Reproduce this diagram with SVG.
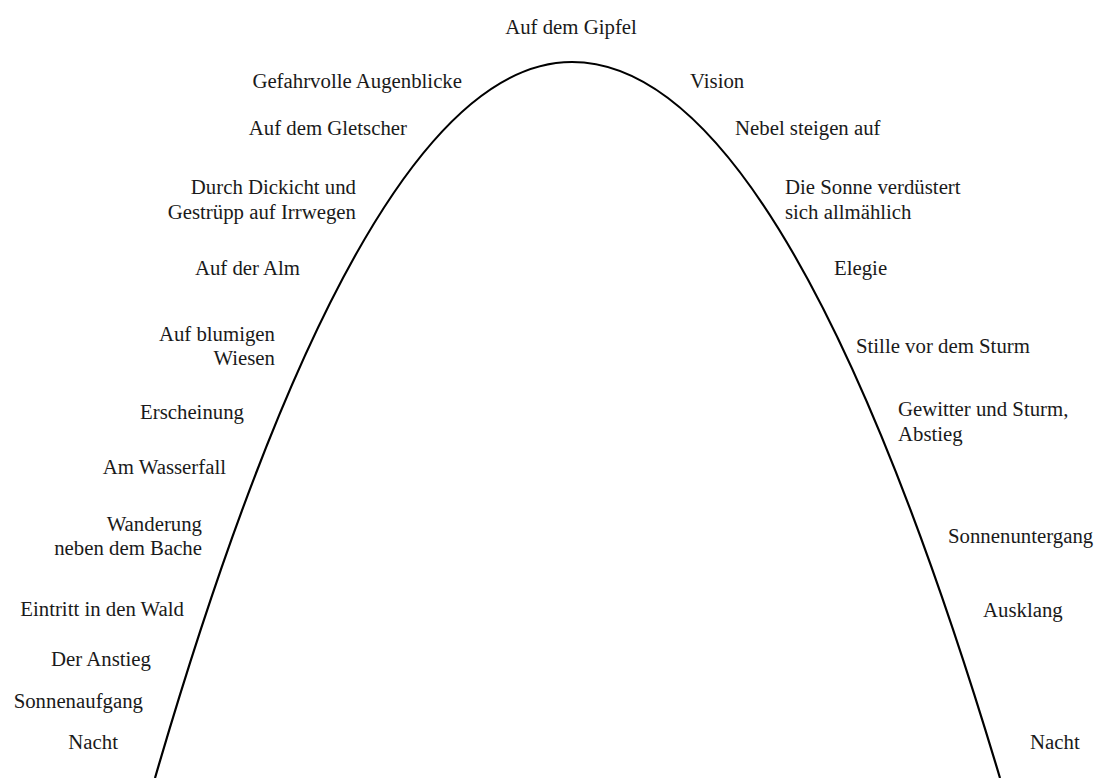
<svg xmlns="http://www.w3.org/2000/svg" width="1096" height="778" viewBox="0 0 1096 778">
  <style>
    text { font-family: "Liberation Serif", "DejaVu Serif", serif; font-size: 20.8px; fill: #1a1a1a; }
    .l { text-anchor: end; }
    .r { text-anchor: start; }
    .c { text-anchor: middle; }
    .curve { fill: none; stroke: #000; stroke-width: 2.2; }
  </style>
  <rect width="1096" height="778" fill="#fff"/>

  <!-- the arc of the day: ascent on the left, descent on the right -->
  <g id="connectors">
    <path class="curve" d="M155,778 Q363.5,62 572,62 Q786,62 1000,778"/>
  </g>

  <g transform="translate(0,1.5)">
    <g id="summit"><text class="c" x="571" y="32">Auf dem Gipfel</text></g>

    <!-- ascent -->
    <g id="a-gefahrvolle"><text class="l" x="462" y="86">Gefahrvolle Augenblicke</text></g>
    <g id="a-gletscher"><text class="l" x="407" y="133">Auf dem Gletscher</text></g>
    <g id="a-dickicht">
      <text class="l" x="356" y="192">Durch Dickicht und</text>
      <text class="l" x="356" y="217">Gestrüpp auf Irrwegen</text>
    </g>
    <g id="a-alm"><text class="l" x="300" y="273">Auf der Alm</text></g>
    <g id="a-wiesen">
      <text class="l" x="275" y="339">Auf blumigen</text>
      <text class="l" x="275" y="363">Wiesen</text>
    </g>
    <g id="a-erscheinung"><text class="l" x="244" y="417">Erscheinung</text></g>
    <g id="a-wasserfall"><text class="l" x="226" y="472">Am Wasserfall</text></g>
    <g id="a-wanderung">
      <text class="l" x="202" y="529">Wanderung</text>
      <text class="l" x="202" y="553">neben dem Bache</text>
    </g>
    <g id="a-wald"><text class="l" x="184" y="614">Eintritt in den Wald</text></g>
    <g id="a-anstieg"><text class="l" x="151" y="664">Der Anstieg</text></g>
    <g id="a-sonnenaufgang"><text class="l" x="143" y="706">Sonnenaufgang</text></g>
    <g id="a-nacht"><text class="l" x="118" y="747">Nacht</text></g>

    <!-- descent -->
    <g id="d-vision"><text class="r" x="690" y="86">Vision</text></g>
    <g id="d-nebel"><text class="r" x="735" y="133">Nebel steigen auf</text></g>
    <g id="d-sonne">
      <text class="r" x="785" y="192">Die Sonne verdüstert</text>
      <text class="r" x="785" y="217">sich allmählich</text>
    </g>
    <g id="d-elegie"><text class="r" x="834" y="273">Elegie</text></g>
    <g id="d-stille"><text class="r" x="856" y="351">Stille vor dem Sturm</text></g>
    <g id="d-gewitter">
      <text class="r" x="898" y="414">Gewitter und Sturm,</text>
      <text class="r" x="898" y="439">Abstieg</text>
    </g>
    <g id="d-sonnenuntergang"><text class="r" x="948" y="541">Sonnenuntergang</text></g>
    <g id="d-ausklang"><text class="r" x="983" y="615">Ausklang</text></g>
    <g id="d-nacht"><text class="r" x="1030" y="747">Nacht</text></g>
  </g>
</svg>
